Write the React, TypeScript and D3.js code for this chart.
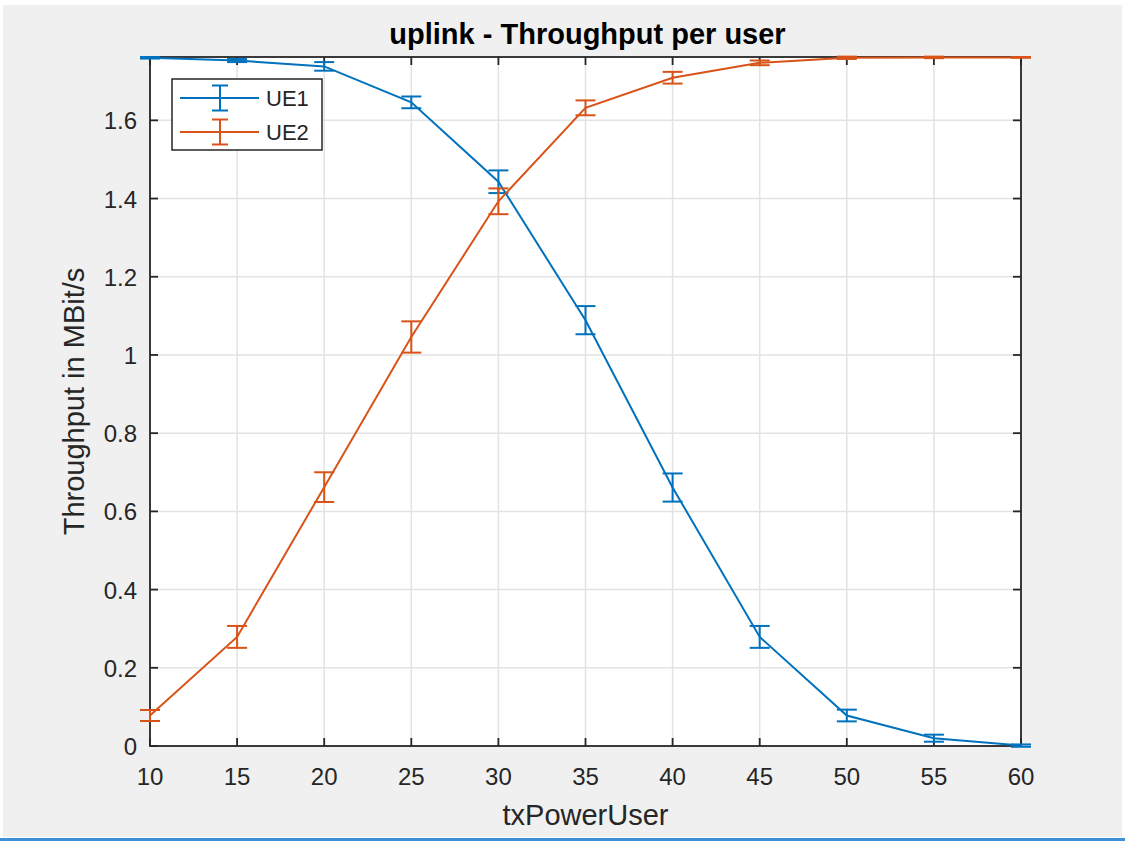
import React from 'react';
import * as d3 from 'd3';

// values
const txPower = [10, 15, 20, 25, 30, 35, 40, 45, 50, 55, 60];
const ue1Mean = [1.760, 1.753, 1.738, 1.646, 1.443, 1.089, 0.661, 0.279, 0.078, 0.020, 0.001];
const ue1Err = [0.002, 0.004, 0.011, 0.015, 0.029, 0.036, 0.036, 0.028, 0.015, 0.009, 0.003];
const ue2Mean = [0.078, 0.279, 0.662, 1.046, 1.393, 1.632, 1.709, 1.747, 1.760, 1.761, 1.761];
const ue2Err = [0.014, 0.028, 0.038, 0.040, 0.033, 0.019, 0.015, 0.006, 0.003, 0.002, 0.001];
const xTicks = [10, 15, 20, 25, 30, 35, 40, 45, 50, 55, 60];
const yTicks = [0, 0.2, 0.4, 0.6, 0.8, 1, 1.2, 1.4, 1.6];
const seriesNames = ['UE1', 'UE2'];
const seriesColors = ['#0072BD', '#D95319'];

const W = 1125, H = 841;
const margin = {top: 57, right: 104, bottom: 95, left: 150};
const font = 'Liberation Sans, Arial, Helvetica, sans-serif';
const axisColor = '#262626';

export default function App() {
    const x = d3.scaleLinear().domain([10, 60]).range([margin.left, W - margin.right]);
    const y = d3.scaleLinear().domain([0, 1.762]).range([H - margin.bottom, margin.top]);
    const x0 = x.range()[0], x1 = x.range()[1];
    const y0 = y.range()[0], y1 = y.range()[1];

    const series = [
        {mean: ue1Mean, err: ue1Err},
        {mean: ue2Mean, err: ue2Err},
    ];
    const line = d3.line<number>()
        .x((d, i) => x(txPower[i]))
        .y(d => y(d));

    const cap = 10;
    const tick = 8;

    return (
        <svg width={W} height={H} style={{position: 'absolute', left: 0, top: 0}} fontFamily={font}>
            <rect x={0} y={0} width={W} height={H} fill="#ffffff"/>
            <rect x={3} y={5} width={W - 6} height={H - 9} fill="#f0f0f0"/>
            <rect x={0} y={H - 3} width={W} height={3} fill="#3d8fd6"/>

            {/* plot area */}
            <rect x={x0} y={y1} width={x1 - x0} height={y0 - y1} fill="#ffffff"/>

            {/* grid */}
            {xTicks.map(t => (
                <line key={'gx' + t} x1={x(t)} x2={x(t)} y1={y0} y2={y1} stroke="#e3e3e3" strokeWidth={1.5}/>
            ))}
            {yTicks.map(t => (
                <line key={'gy' + t} x1={x0} x2={x1} y1={y(t)} y2={y(t)} stroke="#e3e3e3" strokeWidth={1.5}/>
            ))}

            {/* box + ticks */}
            <rect x={x0} y={y1} width={x1 - x0} height={y0 - y1} fill="none" stroke={axisColor} strokeWidth={1.8}/>
            {xTicks.map(t => (
                <g key={'tx' + t}>
                    <line x1={x(t)} x2={x(t)} y1={y0} y2={y0 - tick} stroke={axisColor} strokeWidth={1.8}/>
                    <line x1={x(t)} x2={x(t)} y1={y1} y2={y1 + tick} stroke={axisColor} strokeWidth={1.8}/>
                    <text x={x(t)} y={y0 + 39} textAnchor="middle" fontSize={24} fill={axisColor}>{t}</text>
                </g>
            ))}
            {yTicks.map(t => (
                <g key={'ty' + t}>
                    <line x1={x0} x2={x0 + tick} y1={y(t)} y2={y(t)} stroke={axisColor} strokeWidth={1.8}/>
                    <line x1={x1} x2={x1 - tick} y1={y(t)} y2={y(t)} stroke={axisColor} strokeWidth={1.8}/>
                    <text x={x0 - 13} y={y(t) + 9} textAnchor="end" fontSize={24} fill={axisColor}>{d3.format('~g')(t)}</text>
                </g>
            ))}

            {/* data */}
            {series.map((s, k) => (
                <g key={'s' + k} stroke={seriesColors[k]} strokeWidth={2} fill="none">
                    <path d={line(s.mean) || ''}/>
                    {s.mean.map((m, i) => {
                        const cx = x(txPower[i]);
                        const top = y(m + s.err[i]), bot = y(m - s.err[i]);
                        return (
                            <g key={i}>
                                <line x1={cx} x2={cx} y1={top} y2={bot}/>
                                <line x1={cx - cap} x2={cx + cap} y1={top} y2={top}/>
                                <line x1={cx - cap} x2={cx + cap} y1={bot} y2={bot}/>
                            </g>
                        );
                    })}
                </g>
            ))}

            {/* legend */}
            <rect x={172} y={79} width={150} height={71} fill="#ffffff" stroke={axisColor} strokeWidth={1.5}/>
            {seriesNames.map((name, k) => {
                const ly = 98 + k * 34;
                return (
                    <g key={name}>
                        <g stroke={seriesColors[k]} strokeWidth={2}>
                            <line x1={180} x2={259} y1={ly} y2={ly}/>
                            <line x1={220} x2={220} y1={ly - 12.5} y2={ly + 12.5}/>
                            <line x1={212} x2={228} y1={ly - 12.5} y2={ly - 12.5}/>
                            <line x1={212} x2={228} y1={ly + 12.5} y2={ly + 12.5}/>
                        </g>
                        <text x={266} y={ly + 8} fontSize={22} fill={axisColor}>{name}</text>
                    </g>
                );
            })}

            {/* labels */}
            <text x={(x0 + x1) / 2 + 2} y={44} textAnchor="middle" fontSize={29} fontWeight="bold" fill="#000000">
                uplink - Throughput per user
            </text>
            <text x={(x0 + x1) / 2} y={825} textAnchor="middle" fontSize={29} fill={axisColor}>txPowerUser</text>
            <text transform={`translate(84,${(y0 + y1) / 2}) rotate(-90)`} textAnchor="middle" fontSize={29} fill={axisColor}>
                Throughput in MBit/s
            </text>
        </svg>
    );
}
